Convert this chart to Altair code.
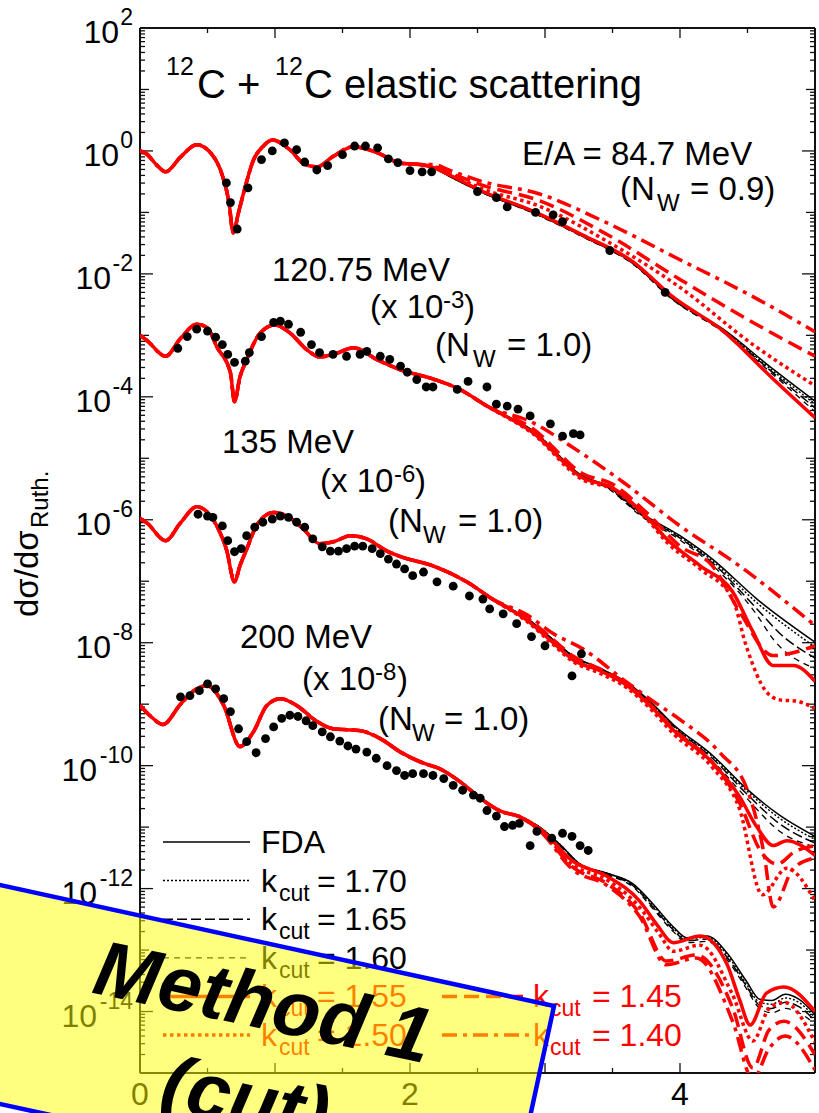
import altair as alt
import pandas as pd

# ---------------------------------------------------------------------------
# Values: x = momentum transfer, L = log10(dσ/dσRuth)
# ---------------------------------------------------------------------------
MODELS = ["FDA", "1.70", "1.65", "1.60", "1.55", "1.50", "1.45", "1.40"]

# ---- E/A = 84.7 MeV -------------------------------------------------------
E1_base_x = [0.00, 0.05, 0.12, 0.19, 0.30, 0.42, 0.53, 0.61, 0.66, 0.69, 0.73, 0.78,
             0.84, 0.91, 0.98, 1.11, 1.21, 1.31, 1.43, 1.58, 1.76, 1.93, 2.07]
E1_base_L = [0.00, -0.05, -0.22, -0.34, -0.10, 0.10, -0.05, -0.40, -0.85, -1.33, -1.00, -0.58,
             -0.15, 0.07, 0.18, 0.02, -0.20, -0.26, -0.09, 0.07, -0.03, -0.20, -0.22]
E1_tx = [2.17, 2.30, 2.54, 2.91, 3.28, 3.65, 3.95, 4.32, 4.69, 5.00]
E1_tails = {
    "FDA": (E1_tx, [-0.27, -0.42, -0.68, -1.00, -1.39, -1.82, -2.40, -2.90, -3.55, -4.07]),
    "1.70": (E1_tx, [-0.27, -0.42, -0.68, -1.00, -1.39, -1.82, -2.41, -2.92, -3.58, -4.12]),
    "1.65": (E1_tx, [-0.27, -0.42, -0.68, -1.00, -1.39, -1.83, -2.42, -2.93, -3.61, -4.18]),
    "1.60": (E1_tx, [-0.27, -0.42, -0.68, -1.01, -1.40, -1.84, -2.43, -2.95, -3.64, -4.24]),
    "1.55": (E1_tx, [-0.27, -0.40, -0.66, -0.98, -1.37, -1.80, -2.38, -2.93, -3.71, -4.34]),
    "1.50": ([2.17, 2.30, 2.54, 2.96, 3.46, 4.00, 4.54, 5.00],
             [-0.26, -0.38, -0.62, -0.90, -1.47, -2.22, -3.15, -3.82]),
    "1.45": ([2.17, 2.30, 2.54, 2.96, 3.46, 4.00, 4.54, 5.00],
             [-0.25, -0.36, -0.56, -0.81, -1.36, -2.09, -2.79, -3.34]),
    "1.40": ([2.17, 2.30, 2.54, 2.96, 3.41, 4.00, 4.54, 5.00],
             [-0.22, -0.32, -0.50, -0.70, -1.12, -1.77, -2.37, -2.94]),
}
E1_dots_x = [0.64, 0.67, 0.72, 0.80, 0.90, 0.98, 1.07, 1.16, 1.22, 1.31, 1.39, 1.50, 1.59, 1.67,
             1.76, 1.84, 1.91, 2.00, 2.09, 2.16, 2.50, 2.64, 2.72, 2.93, 3.06, 3.13, 3.48, 3.89]
E1_dots_L = [-0.52, -0.84, -1.27, -0.60, -0.14, 0.00, 0.13, 0.02, -0.18, -0.31, -0.24, -0.06, 0.08, 0.08,
             0.05, -0.13, -0.19, -0.32, -0.34, -0.34, -0.66, -0.76, -0.91, -1.00, -1.04, -1.15, -1.62, -2.30]

# ---- 120.75 MeV (x 10^-3) -------------------------------------------------
E2_base_x = [0.00, 0.05, 0.19, 0.30, 0.42, 0.50, 0.57, 0.67, 0.70, 0.74, 0.79, 0.89, 1.00, 1.11,
             1.24, 1.33, 1.46, 1.58, 1.76, 1.93, 2.17, 2.37, 2.57]
E2_base_L = [-3.00, -3.08, -3.34, -3.05, -2.82, -2.88, -3.19, -3.61, -4.08, -3.68, -3.40, -2.96, -2.83, -2.96,
             -3.24, -3.35, -3.29, -3.20, -3.40, -3.56, -3.71, -3.88, -4.15]
E2_tx = [2.91, 3.28, 3.46, 3.70, 4.00, 4.24, 4.57, 5.00]
E2_tails = {
    "FDA": (E2_tx, [-4.55, -5.29, -5.45, -5.87, -6.26, -6.64, -7.29, -7.99]),
    "1.70": (E2_tx, [-4.55, -5.29, -5.46, -5.88, -6.28, -6.67, -7.35, -8.07]),
    "1.65": ([2.91, 3.28, 3.46, 3.70, 4.00, 4.24, 4.57, 4.74, 5.00],
             [-4.56, -5.30, -5.47, -5.90, -6.30, -6.70, -7.45, -7.85, -8.25]),
    "1.60": ([2.91, 3.28, 3.46, 3.70, 4.00, 4.24, 4.57, 4.69, 5.00],
             [-4.57, -5.31, -5.48, -5.92, -6.33, -6.74, -7.55, -7.94, -8.42]),
    "1.55": ([2.91, 3.28, 3.50, 3.76, 3.90, 4.15, 4.39, 4.54, 4.69, 4.84, 5.00],
             [-4.58, -5.32, -5.48, -5.97, -6.31, -6.75, -7.17, -7.82, -8.37, -8.37, -8.63]),
    "1.50": ([2.91, 3.28, 3.50, 3.76, 3.90, 4.15, 4.39, 4.49, 4.64, 4.74, 4.86, 5.00],
             [-4.60, -5.35, -5.50, -6.00, -6.36, -6.80, -7.29, -8.05, -8.80, -8.93, -8.95, -9.07]),
    "1.45": ([2.91, 3.28, 3.50, 3.76, 4.00, 4.24, 4.44, 4.69, 5.00],
             [-4.52, -5.25, -5.42, -5.90, -6.43, -6.75, -7.49, -8.21, -8.05]),
    "1.40": ([2.91, 3.19, 3.58, 4.00, 4.44, 5.00],
             [-4.42, -4.80, -5.39, -6.10, -6.75, -7.72]),
}
E2_dots_x = [0.28, 0.35, 0.42, 0.50, 0.56, 0.61, 0.65, 0.70, 0.78, 0.81, 0.90, 0.99, 1.04, 1.10, 1.19,
             1.27, 1.33, 1.43, 1.53, 1.63, 1.68, 1.78, 1.85, 1.93, 1.98, 2.05, 2.12, 2.17, 2.35, 2.43,
             2.57, 2.64, 2.72, 2.80, 2.89, 3.04, 3.13, 3.21, 3.26]
E2_dots_L = [-3.21, -3.02, -2.90, -2.93, -3.03, -3.15, -3.31, -3.44, -3.42, -3.28, -3.02, -2.79, -2.77, -2.82, -2.95,
             -3.15, -3.28, -3.31, -3.34, -3.31, -3.26, -3.34, -3.39, -3.50, -3.60, -3.72, -3.84, -3.84, -3.88, -3.75,
             -3.84, -4.12, -4.15, -4.20, -4.31, -4.44, -4.64, -4.60, -4.62]

# ---- 135 MeV (x 10^-6) ----------------------------------------------------
E3_base_x = [0.00, 0.05, 0.19, 0.30, 0.42, 0.50, 0.58, 0.64, 0.70, 0.74, 0.79, 0.87, 0.99, 1.09,
             1.21, 1.33, 1.43, 1.56, 1.68, 1.83, 1.93, 2.17, 2.42, 2.61]
E3_base_L = [-5.98, -6.05, -6.34, -6.05, -5.79, -5.88, -6.15, -6.48, -7.01, -6.75, -6.48, -6.07, -5.88, -5.94,
             -6.15, -6.39, -6.36, -6.26, -6.31, -6.51, -6.60, -6.75, -7.01, -7.29]
E3_tx = [2.87, 3.06, 3.21, 3.41, 3.61, 3.80, 3.95, 4.24, 4.49, 4.74, 5.00]
E3_tails = {
    "FDA": (E3_tx, [-7.61, -7.95, -8.22, -8.42, -8.65, -9.00, -9.33, -9.83, -10.37, -10.81, -11.15]),
    "1.70": (E3_tx, [-7.61, -7.95, -8.22, -8.42, -8.66, -9.01, -9.34, -9.85, -10.40, -10.86, -11.20]),
    "1.65": (E3_tx, [-7.62, -7.96, -8.23, -8.43, -8.67, -9.02, -9.36, -9.88, -10.45, -10.95, -11.26]),
    "1.60": (E3_tx, [-7.62, -7.96, -8.23, -8.44, -8.68, -9.04, -9.38, -9.92, -10.52, -11.07, -11.32]),
    "1.55": ([2.87, 3.06, 3.21, 3.41, 3.61, 3.80, 3.95, 4.24, 4.44, 4.57, 4.69, 4.79, 5.00],
             [-7.64, -8.00, -8.28, -8.46, -8.70, -9.07, -9.42, -9.95, -10.50, -11.00, -11.30, -11.22, -11.46]),
    "1.50": ([2.87, 3.06, 3.21, 3.41, 3.61, 3.80, 3.95, 4.24, 4.44, 4.61, 4.79, 5.00],
             [-7.66, -8.03, -8.31, -8.50, -8.74, -9.12, -9.48, -10.03, -10.70, -12.10, -11.67, -12.20]),
    "1.45": ([2.87, 3.06, 3.21, 3.41, 3.61, 3.80, 3.95, 4.24, 4.44, 4.60, 4.72, 4.85, 5.00],
             [-7.60, -7.95, -8.22, -8.43, -8.68, -9.05, -9.40, -9.95, -10.60, -11.40, -11.60, -11.40, -11.30]),
    "1.40": ([2.87, 3.06, 3.28, 3.58, 3.80, 4.00, 4.30, 4.50, 4.62, 4.69, 4.84, 5.00],
             [-7.55, -7.85, -8.10, -8.60, -8.95, -9.25, -9.80, -10.40, -11.40, -12.30, -11.67, -11.50]),
}
E3_dots_x = [0.43, 0.50, 0.54, 0.61, 0.65, 0.70, 0.75, 0.79, 0.85, 0.91, 0.98, 1.04, 1.10, 1.16, 1.22,
             1.28, 1.35, 1.41, 1.47, 1.53, 1.59, 1.65, 1.72, 1.78, 1.84, 1.90, 1.96, 2.02, 2.10, 2.20,
             2.32, 2.44, 2.54, 2.59, 2.69, 2.79, 2.90, 3.00, 3.20, 3.27]
E3_dots_L = [-5.91, -5.94, -5.96, -6.10, -6.34, -6.52, -6.47, -6.26, -6.12, -6.04, -5.99, -5.94, -5.96, -6.04, -6.12,
             -6.31, -6.44, -6.51, -6.51, -6.47, -6.43, -6.43, -6.47, -6.55, -6.64, -6.72, -6.80, -6.91, -6.85, -7.01,
             -7.08, -7.24, -7.29, -7.45, -7.53, -7.69, -7.90, -8.05, -8.54, -8.18]

# ---- 200 MeV (x 10^-8) ----------------------------------------------------
E4_base_x = [0.00, 0.08, 0.17, 0.30, 0.42, 0.50, 0.62, 0.74, 0.84, 0.94, 1.04, 1.16, 1.31, 1.43,
             1.63, 1.78, 1.93, 2.10, 2.22, 2.37, 2.52, 2.67, 2.81]
E4_base_L = [-9.02, -9.20, -9.33, -9.00, -8.75, -8.70, -9.02, -9.69, -9.45, -9.02, -8.91, -9.02, -9.28, -9.40,
             -9.43, -9.56, -9.78, -9.96, -10.05, -10.26, -10.53, -10.74, -10.83]
E4_tx = [2.96, 3.11, 3.26, 3.46, 3.65, 3.80, 3.95, 4.05, 4.20, 4.35, 4.49, 4.59, 4.68, 4.78, 4.88, 5.00]
E4_tails = {
    "FDA": (E4_tx, [-11.00, -11.28, -11.60, -11.75, -11.92, -12.25, -12.62, -12.80, -12.77, -13.05,
                    -13.50, -13.80, -13.82, -13.72, -13.80, -14.05]),
    "1.70": (E4_tx, [-11.00, -11.28, -11.60, -11.75, -11.93, -12.27, -12.64, -12.82, -12.79, -13.08,
                     -13.55, -13.85, -13.88, -13.78, -13.85, -14.10]),
    "1.65": (E4_tx, [-11.00, -11.29, -11.61, -11.77, -11.95, -12.30, -12.67, -12.85, -12.82, -13.12,
                     -13.58, -13.90, -13.95, -13.85, -13.92, -14.15]),
    "1.60": (E4_tx, [-11.01, -11.30, -11.62, -11.78, -11.97, -12.33, -12.70, -12.88, -12.86, -13.16,
                     -13.62, -13.95, -14.02, -13.95, -14.02, -14.20]),
    "1.55": ([2.96, 3.21, 3.46, 3.70, 3.83, 3.95, 4.15, 4.35, 4.44, 4.52, 4.64, 4.77, 5.00],
             [-11.02, -11.56, -11.80, -12.20, -12.59, -12.88, -12.77, -13.24, -13.80, -14.22, -13.70, -13.60, -14.00]),
    "1.50": ([2.96, 3.21, 3.46, 3.70, 3.85, 3.95, 4.15, 4.39, 4.54, 4.66, 4.77, 5.00],
             [-11.04, -11.62, -11.86, -12.30, -12.75, -13.02, -12.92, -13.73, -14.48, -13.95, -13.85, -14.50]),
    "1.45": ([2.96, 3.21, 3.46, 3.70, 3.90, 4.12, 4.39, 4.54, 4.66, 4.77, 5.00],
             [-11.05, -11.66, -11.92, -12.40, -13.18, -13.08, -13.94, -14.92, -14.30, -14.16, -14.70]),
    "1.40": ([2.96, 3.21, 3.46, 3.70, 3.90, 4.12, 4.39, 4.54, 4.66, 4.78, 5.00],
             [-11.06, -11.70, -11.95, -12.45, -13.24, -13.13, -14.16, -15.10, -14.60, -14.40, -14.95]),
}
E4_dots_x = [0.30, 0.37, 0.44, 0.50, 0.56, 0.62, 0.67, 0.73, 0.79, 0.86, 0.93, 0.99, 1.05, 1.11, 1.17,
             1.23, 1.28, 1.35, 1.41, 1.48, 1.54, 1.60, 1.68, 1.75, 1.83, 1.90, 1.96, 2.02, 2.10, 2.17,
             2.25, 2.32, 2.39, 2.47, 2.52, 2.57, 2.64, 2.70, 2.76, 2.81, 2.89, 2.94, 3.05, 3.13, 3.20,
             3.26, 3.32]
E4_dots_L = [-8.88, -8.86, -8.78, -8.67, -8.75, -8.91, -9.12, -9.40, -9.61, -9.79, -9.56, -9.37, -9.23, -9.18, -9.20,
             -9.27, -9.35, -9.45, -9.53, -9.60, -9.68, -9.73, -9.78, -9.88, -10.00, -10.08, -10.16, -10.13, -10.13, -10.16,
             -10.21, -10.32, -10.40, -10.48, -10.53, -10.73, -10.82, -10.99, -10.97, -10.94, -11.30, -11.07, -11.18, -11.10,
             -11.15, -11.30, -11.38]

ENERGIES = [
    ("84.7", E1_base_x, E1_base_L, E1_tails, E1_dots_x, E1_dots_L),
    ("120.75", E2_base_x, E2_base_L, E2_tails, E2_dots_x, E2_dots_L),
    ("135", E3_base_x, E3_base_L, E3_tails, E3_dots_x, E3_dots_L),
    ("200", E4_base_x, E4_base_L, E4_tails, E4_dots_x, E4_dots_L),
]

Y_EXPONENTS = [2, 0, -2, -4, -6, -8, -10, -12, -14]
X_LABELS = [0, 2, 4]

# annotation box (data coordinates, x and log10 y)
BOX_X = [-1.259, 0.193, 2.852, 3.067]
BOX_TOP = [-11.836, -12.527, -13.796, -13.910]
BOX_BOT = [-15.399, -16.090, -16.090, -13.910]
EDGE1_X, EDGE1_L = [-1.259, 3.067, 2.852], [-11.836, -13.910, -16.090]
EDGE2_X, EDGE2_L = [-1.259, 0.193], [-15.399, -16.090]

# ---------------------------------------------------------------------------
W, H = 675, 1045
FONT = "Liberation Sans"
RED = "#ff0000"
BLK = "#000000"
AX = "#111111"

XS = alt.Scale(domain=[0, 5], nice=False, zero=False)
YS = alt.Scale(type="log", domain=[1e-15, 1e2], nice=False)

STYLE = {
    "FDA": dict(color=BLK, strokeWidth=1.5),
    "1.70": dict(color=BLK, strokeWidth=1.5, strokeDash=[2, 2]),
    "1.65": dict(color=BLK, strokeWidth=1.5, strokeDash=[10, 4]),
    "1.60": dict(color=BLK, strokeWidth=1.3, strokeDash=[6, 5]),
    "1.55": dict(color=RED, strokeWidth=3.5),
    "1.50": dict(color=RED, strokeWidth=3.5, strokeDash=[3.5, 3.5]),
    "1.45": dict(color=RED, strokeWidth=3.5, strokeDash=[15, 7]),
    "1.40": dict(color=RED, strokeWidth=3.5, strokeDash=[15, 6, 4, 6]),
}

rows, dots = [], []
for name, bx, bL, tails, dx, dL in ENERGIES:
    for m in MODELS:
        tx, tL = tails[m]
        for i, (x, L) in enumerate(zip(list(bx) + list(tx), list(bL) + list(tL))):
            rows.append(dict(energy=name, model=m, x=x, y=10.0 ** L, i=i))
    for x, L in zip(dx, dL):
        dots.append(dict(energy=name, x=x, y=10.0 ** L))
curves = pd.DataFrame(rows)
dots_df = pd.DataFrame(dots)

X = lambda f="x": alt.X(f"{f}:Q", scale=XS, axis=None)
Y = lambda f="y": alt.Y(f"{f}:Q", scale=YS, axis=None)

layers = []

# frame
one = pd.DataFrame({"a": [0]})
for enc in [dict(x=alt.value(0), x2=alt.value(W), y=alt.value(0)),
            dict(x=alt.value(0), x2=alt.value(W), y=alt.value(H)),
            dict(x=alt.value(0), y=alt.value(0), y2=alt.value(H)),
            dict(x=alt.value(W), y=alt.value(0), y2=alt.value(H))]:
    layers.append(alt.Chart(one).mark_rule(color=AX, strokeWidth=2).encode(**enc))

# y ticks (inward, both sides)
even = [10.0 ** k for k in range(-15, 3) if k % 2 == 0]
odd = [10.0 ** k for k in range(-15, 3) if k % 2 != 0]
minor = [m * 10.0 ** k for k in range(-15, 2) for m in range(2, 10)]
for vals, ln in [(even, 13), (odd, 9), (minor, 5)]:
    df = pd.DataFrame({"y": vals})
    layers.append(alt.Chart(df).mark_rule(color=AX, strokeWidth=1.3).encode(
        y=Y(), x=alt.value(0), x2=alt.value(ln)))
    layers.append(alt.Chart(df).mark_rule(color=AX, strokeWidth=1.3).encode(
        y=Y(), x=alt.value(W - ln), x2=alt.value(W)))
# x ticks (inward, top and bottom)
for vals, ln in [([0, 1, 2, 3, 4, 5], 10), ([0.5, 1.5, 2.5, 3.5, 4.5], 5)]:
    df = pd.DataFrame({"x": vals})
    layers.append(alt.Chart(df).mark_rule(color=AX, strokeWidth=1.3).encode(
        x=X(), y=alt.value(H - ln), y2=alt.value(H)))
    layers.append(alt.Chart(df).mark_rule(color=AX, strokeWidth=1.3).encode(
        x=X(), y=alt.value(0), y2=alt.value(ln)))

# curves: black first, then red
for m in MODELS:
    st = STYLE[m]
    layers.append(alt.Chart(curves[curves.model == m]).mark_line(
        clip=True, interpolate="monotone", **st).encode(
        x=X(), y=Y(), detail="energy:N", order="i:Q"))

# data points
layers.append(alt.Chart(dots_df).mark_circle(size=78, color=BLK, opacity=1).encode(
    x=X(), y=Y(), detail="energy:N"))


def txt(s, x, y, size=33, color=BLK, align="left", angle=0, weight="normal", style="normal"):
    return alt.Chart(one).mark_text(
        text=s, fontSize=size, color=color, align=align, baseline="alphabetic", angle=angle,
        font=FONT, fontWeight=weight, fontStyle=style).encode(x=alt.value(x), y=alt.value(y))


# y tick labels: "10" with superscript exponent
ylab = pd.DataFrame({"e": [str(e) for e in Y_EXPONENTS], "y": [10.0 ** e for e in Y_EXPONENTS]})
layers.append(alt.Chart(ylab).mark_text(fontSize=23, font=FONT, align="right", baseline="alphabetic",
                                        dy=-3, color=BLK).encode(y=Y(), x=alt.value(-7), text="e:N"))
for cond, xpos in [("length(datum.e) == 1", -21), ("length(datum.e) == 2", -29),
                   ("length(datum.e) == 3", -43)]:
    layers.append(alt.Chart(ylab).transform_filter(cond).mark_text(
        text="10", fontSize=32, font=FONT, align="right", baseline="alphabetic", dy=15, color=BLK
    ).encode(y=Y(), x=alt.value(xpos)))

# x tick labels
xlab = pd.DataFrame({"x": X_LABELS, "t": [str(v) for v in X_LABELS]})
layers.append(alt.Chart(xlab).mark_text(fontSize=32, font=FONT, align="center", baseline="alphabetic",
                                        color=BLK).encode(x=X(), y=alt.value(1077), text="t:N"))

# y axis title
layers.append(txt("dσ/dσ", -102, 589, size=33, angle=270))
layers.append(txt("Ruth.", -92, 500, size=24, angle=270))

# title
layers += [txt("12", 26, 47, size=25), txt("C +", 57, 70, size=40),
           txt("12", 135, 47, size=25), txt("C elastic scattering", 164, 70, size=40)]

# energy labels
layers += [txt("E/A = 84.7 MeV", 382, 137),
           txt("(N", 480, 172), txt("W", 517, 183, size=24), txt("= 0.9)", 550, 172)]
layers += [txt("120.75 MeV", 132, 253),
           txt("(x 10", 230, 290), txt("-3", 303, 280, size=24), txt(")", 324, 290),
           txt("(N", 295, 328), txt("W", 333, 339, size=24), txt("= 1.0)", 367, 328)]
layers += [txt("135 MeV", 82, 425),
           txt("(x 10", 180, 464), txt("-6", 254, 454, size=24), txt(")", 275, 464),
           txt("(N", 248, 504), txt("W", 283, 515, size=24), txt("= 1.0)", 318, 504)]
layers += [txt("200 MeV", 100, 620),
           txt("(x 10", 162, 662), txt("-8", 235, 652, size=24), txt(")", 257, 662),
           txt("(N", 238, 702), txt("W", 272, 713, size=24), txt("= 1.0)", 304, 702)]

# legend
LEG = [("FDA", 0, 0), ("1.70", 0, 1), ("1.65", 0, 2), ("1.60", 0, 3), ("1.55", 0, 4),
       ("1.50", 0, 5), ("1.45", 1, 4), ("1.40", 1, 5)]
for m, col, row in LEG:
    yr = 814 + 38.6 * row
    st = dict(STYLE[m])
    x0, x1 = (23, 110) if col == 0 else (302, 390)
    layers.append(alt.Chart(one).mark_rule(**st).encode(
        x=alt.value(x0), x2=alt.value(x1), y=alt.value(yr)))
    c = st["color"]
    kx, cx, ex = (121, 139, 177) if col == 0 else (393, 410, 452)
    if m == "FDA":
        layers.append(txt("FDA", kx, yr + 11, size=32, color=c))
    else:
        layers += [txt("k", kx, yr + 11, size=32, color=c),
                   txt("cut", cx, yr + 20, size=23, color=c),
                   txt("= " + m, ex, yr + 11, size=32, color=c)]

# yellow annotation box
box = pd.DataFrame({"x": BOX_X, "y": [10.0 ** v for v in BOX_TOP], "y2": [10.0 ** v for v in BOX_BOT]})
layers.append(alt.Chart(box).mark_area(color="#ffff00", opacity=0.5).encode(
    x=X(), y=Y(), y2="y2:Q"))
for ex_, eL in [(EDGE1_X, EDGE1_L), (EDGE2_X, EDGE2_L)]:
    edf = pd.DataFrame({"x": ex_, "y": [10.0 ** v for v in eL], "o": list(range(len(ex_)))})
    layers.append(alt.Chart(edf).mark_line(color="#0000ff", strokeWidth=4.5).encode(
        x=X(), y=Y(), order="o:Q"))

layers.append(txt("Method 1", 118, 1000, size=78, align="center", angle=12, weight="bold", style="italic"))
layers.append(txt("(cut)", 100, 1097, size=78, align="center", angle=12, weight="bold", style="italic"))

chart = alt.layer(*layers).properties(
    width=W, height=H,
    padding={"left": 140, "top": 28, "right": 4, "bottom": 40},
    autosize=alt.AutoSizeParams(type="none"),
).configure_view(stroke=None)

chart.save("out.html", embed_options={"renderer": "svg", "actions": False})
